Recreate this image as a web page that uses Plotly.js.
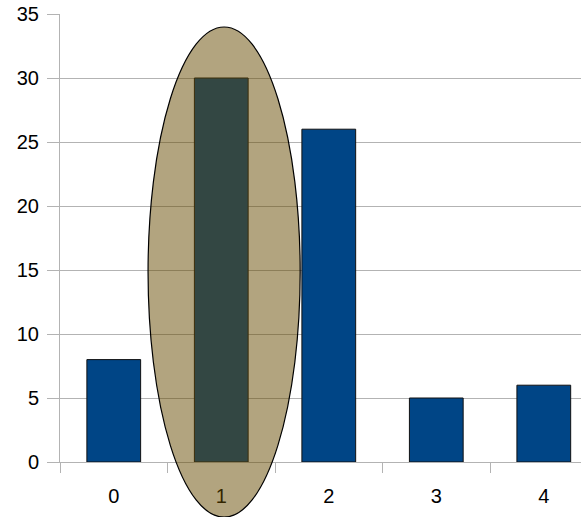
<!DOCTYPE html>
<html>
<head>
<meta charset="utf-8">
<script src="https://cdn.plot.ly/plotly-3.0.1.min.js"></script>
<style>
  html, body { margin: 0; padding: 0; background: #fff; }
  #chart { width: 581px; height: 517px; }
</style>
</head>
<body>
<div id="chart"></div>
<script>
// Category labels and bar heights
const categories = ['0', '1', '2', '3', '4'];
const counts = [8, 30, 26, 5, 6];
const yTicks = [0, 5, 10, 15, 20, 25, 30, 35];

const gridGray = '#b3b3b3';

const trace = {
  type: 'bar',
  x: categories,
  y: counts,
  marker: { color: '#004586', line: { color: '#111111', width: 1 } },
  hoverinfo: 'x+y'
};

const layout = {
  width: 581,
  height: 517,
  margin: { l: 60, r: 0, t: 14, b: 55, pad: 0 },
  paper_bgcolor: '#ffffff',
  plot_bgcolor: '#ffffff',
  showlegend: false,
  bargap: 0.5,
  font: { family: 'Liberation Sans, Arial, sans-serif', size: 20, color: '#000000' },
  xaxis: {
    type: 'category',
    categoryarray: categories,
    range: [-0.5, 4.346],
    showgrid: false,
    showline: true,
    linecolor: gridGray,
    linewidth: 1,
    ticks: 'outside',
    tickson: 'boundaries',
    ticklen: 10,
    tickcolor: gridGray,
    tickwidth: 1,
    ticklabelstandoff: 16,
    zeroline: false
  },
  yaxis: {
    range: [0, 35],
    tickvals: yTicks,
    showgrid: true,
    gridcolor: gridGray,
    gridwidth: 1,
    showline: true,
    linecolor: gridGray,
    linewidth: 1,
    ticks: 'outside',
    ticklen: 12,
    tickcolor: gridGray,
    tickwidth: 1,
    ticklabelstandoff: 4,
    zeroline: true,
    zerolinecolor: gridGray,
    zerolinewidth: 1,
    fixedrange: true
  },
  // Translucent highlight ellipse around the tallest bar
  shapes: [{
    type: 'circle',
    xref: 'paper',
    yref: 'paper',
    x0: 0.169,
    x1: 0.461,
    y0: -0.123,
    y1: 0.971,
    layer: 'above',
    fillcolor: 'rgba(101, 73, 0, 0.5)',
    line: { color: '#000000', width: 1.2 }
  }]
};

Plotly.newPlot('chart', [trace], layout, { displayModeBar: false, staticPlot: true });
</script>
</body>
</html>
